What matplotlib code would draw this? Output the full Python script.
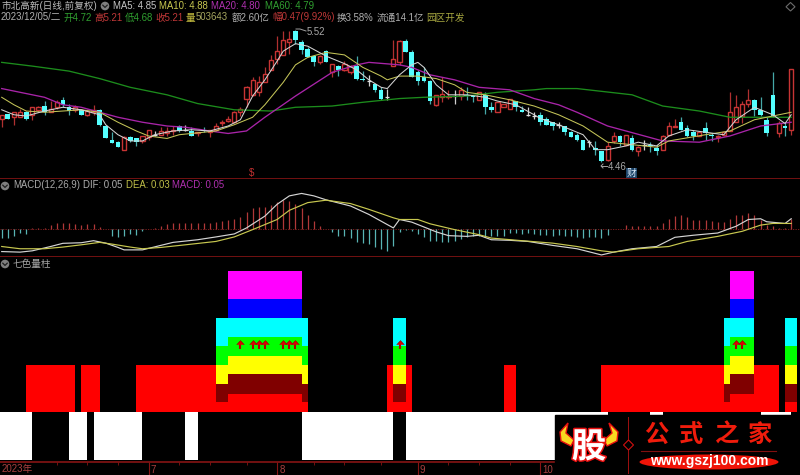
import matplotlib
matplotlib.use("Agg")
import matplotlib.patheffects as pe
import matplotlib.pyplot as plt
import numpy as np
from matplotlib.patches import Circle, Ellipse, Polygon

plt.rcParams["font.family"] = ["Liberation Sans", "Noto Sans CJK SC", "DejaVu Sans"]

# 日K线
opens = [4.81, 4.85, 4.82, 4.82, 4.86, 4.84, 4.88, 4.91, 4.86, 4.90, 4.96, 4.90, 4.88, 4.88, 4.84, 4.86, 4.88, 4.75, 4.64, 4.62,
         4.56, 4.66, 4.65, 4.63, 4.66, 4.68, 4.68, 4.69, 4.71, 4.75, 4.72, 4.71, 4.69, 4.72, 4.70, 4.72, 4.77, 4.79, 4.78, 4.86,
         4.97, 5.00, 5.02, 5.10, 5.20, 5.29, 5.32, 5.42, 5.51, 5.42, 5.37, 5.31, 5.26, 5.35, 5.18, 5.23, 5.20, 5.18, 5.23, 5.13,
         5.11, 5.09, 5.04, 4.98, 5.23, 5.26, 5.43, 5.34, 5.18, 5.14, 5.11, 4.92, 4.98, 4.98, 4.99, 4.99, 5.00, 4.99, 4.96, 5.00,
         4.90, 4.86, 4.90, 4.89, 4.95, 4.88, 4.84, 4.83, 4.84, 4.81, 4.78, 4.76, 4.75, 4.70, 4.68, 4.64, 4.62, 4.57, 4.55, 4.48,
         4.63, 4.67, 4.60, 4.65, 4.55, 4.60, 4.60, 4.57, 4.56, 4.68, 4.74, 4.78, 4.73, 4.70, 4.67, 4.73, 4.68, 4.66, 4.68, 4.71,
         4.78, 4.83, 4.93, 4.96, 4.88, 4.80, 5.00, 4.69, 4.75, 4.72]
closes = [4.84, 4.81, 4.86, 4.86, 4.81, 4.90, 4.90, 4.86, 4.89, 4.94, 4.92, 4.87, 4.90, 4.84, 4.87, 4.88, 4.76, 4.65, 4.61, 4.58,
          4.66, 4.63, 4.62, 4.67, 4.72, 4.68, 4.71, 4.71, 4.72, 4.71, 4.72, 4.67, 4.70, 4.71, 4.72, 4.75, 4.78, 4.81, 4.86, 4.89,
          5.06, 5.12, 5.10, 5.17, 5.28, 5.35, 5.44, 5.45, 5.44, 5.36, 5.30, 5.26, 5.31, 5.26, 5.25, 5.20, 5.25, 5.23, 5.13, 5.12,
          5.11, 5.04, 4.97, 4.98, 5.29, 5.43, 5.34, 5.14, 5.11, 5.11, 4.95, 5.00, 5.01, 4.99, 4.99, 5.04, 4.99, 4.98, 5.02, 4.90,
          4.88, 4.94, 4.93, 4.97, 4.90, 4.86, 4.84, 4.83, 4.78, 4.76, 4.75, 4.76, 4.70, 4.66, 4.64, 4.56, 4.62, 4.56, 4.47, 4.59,
          4.67, 4.62, 4.68, 4.56, 4.58, 4.60, 4.59, 4.55, 4.67, 4.75, 4.75, 4.72, 4.67, 4.67, 4.70, 4.69, 4.67, 4.67, 4.70, 4.86,
          4.90, 4.93, 4.96, 4.88, 4.84, 4.69, 4.83, 4.77, 4.73, 5.21]
highs = [4.84, 4.85, 4.86, 4.89, 4.87, 4.90, 4.91, 4.95, 4.95, 4.96, 4.98, 4.93, 4.92, 4.89, 4.89, 4.92, 4.89, 4.76, 4.70, 4.63,
         4.67, 4.67, 4.65, 4.67, 4.72, 4.71, 4.74, 4.74, 4.75, 4.76, 4.76, 4.74, 4.70, 4.74, 4.72, 4.77, 4.80, 4.83, 4.87, 4.90,
         5.07, 5.14, 5.15, 5.22, 5.32, 5.47, 5.51, 5.51, 5.52, 5.44, 5.38, 5.32, 5.32, 5.36, 5.25, 5.24, 5.27, 5.24, 5.31, 5.19,
         5.16, 5.09, 5.06, 5.05, 5.44, 5.44, 5.45, 5.36, 5.20, 5.22, 5.12, 5.00, 5.14, 5.04, 5.04, 5.06, 5.06, 5.00, 5.02, 5.02,
         4.94, 4.94, 4.93, 4.97, 4.95, 4.91, 4.90, 4.86, 4.86, 4.82, 4.78, 4.78, 4.75, 4.71, 4.69, 4.64, 4.64, 4.63, 4.55, 4.62,
         4.70, 4.68, 4.68, 4.68, 4.59, 4.64, 4.62, 4.60, 4.68, 4.78, 4.81, 4.82, 4.76, 4.72, 4.70, 4.78, 4.69, 4.68, 4.70, 5.02,
         5.00, 4.95, 5.05, 4.97, 4.98, 4.82, 5.18, 4.79, 4.78, 5.21]
lows = [4.74, 4.81, 4.76, 4.82, 4.80, 4.80, 4.86, 4.84, 4.86, 4.89, 4.90, 4.84, 4.86, 4.84, 4.83, 4.84, 4.75, 4.65, 4.61, 4.58,
        4.56, 4.62, 4.59, 4.61, 4.64, 4.67, 4.68, 4.67, 4.68, 4.70, 4.71, 4.67, 4.67, 4.70, 4.66, 4.71, 4.75, 4.78, 4.77, 4.83,
        4.90, 4.99, 4.99, 5.10, 5.20, 5.25, 5.32, 5.33, 5.41, 5.33, 5.30, 5.23, 5.25, 5.26, 5.14, 5.15, 5.19, 5.17, 5.12, 5.11,
        5.07, 5.02, 4.96, 4.96, 5.23, 5.24, 5.34, 5.14, 5.08, 5.10, 4.93, 4.91, 4.94, 4.97, 4.93, 4.96, 4.96, 4.94, 4.96, 4.85,
        4.86, 4.86, 4.90, 4.89, 4.87, 4.86, 4.83, 4.81, 4.76, 4.76, 4.72, 4.73, 4.68, 4.66, 4.63, 4.56, 4.58, 4.52, 4.46, 4.47,
        4.61, 4.59, 4.60, 4.55, 4.51, 4.56, 4.54, 4.52, 4.56, 4.67, 4.74, 4.72, 4.66, 4.64, 4.67, 4.64, 4.63, 4.62, 4.67, 4.71,
        4.78, 4.77, 4.90, 4.83, 4.83, 4.67, 4.82, 4.66, 4.67, 4.68]

# 均线，按图读取的采样点
ma5_x = [0, 2, 4, 7, 10, 13, 16, 17, 19, 21, 23, 25, 28, 31, 34, 37, 39, 41, 43, 45,
         46, 48, 50, 53, 56, 58, 60, 62, 63, 65, 67, 68, 69, 71, 73, 76, 79, 81, 84, 87,
         88, 91, 95, 97, 99, 102, 104, 107, 109, 112, 115, 118, 120, 123, 126, 128, 129]
ma5 = [4.88, 4.84, 4.83, 4.87, 4.90, 4.88, 4.84, 4.76, 4.68, 4.63, 4.63, 4.68, 4.71, 4.72, 4.71, 4.75, 4.80, 4.99, 5.12, 5.27,
       5.35, 5.41, 5.39, 5.31, 5.25, 5.20, 5.12, 5.06, 5.05, 5.16, 5.24, 5.26, 5.22, 5.08, 5.00, 5.00, 4.98, 4.95, 4.92, 4.84,
       4.81, 4.76, 4.68, 4.56, 4.56, 4.59, 4.62, 4.59, 4.67, 4.72, 4.70, 4.68, 4.80, 4.90, 4.84, 4.77, 4.84]
ma10_x = [0, 2, 4, 7, 10, 13, 16, 19, 22, 24, 27, 29, 33, 35, 38, 41, 43, 46, 48, 50,
          53, 56, 59, 62, 63, 65, 68, 71, 74, 76, 79, 83, 87, 91, 95, 99, 103, 107, 109, 115,
          119, 123, 126, 129]
ma10 = [4.98, 4.92, 4.87, 4.86, 4.87, 4.88, 4.86, 4.78, 4.71, 4.67, 4.65, 4.68, 4.70, 4.71, 4.76, 4.82, 4.92, 5.10, 5.24, 5.30,
        5.34, 5.32, 5.22, 5.15, 5.12, 5.15, 5.15, 5.13, 5.08, 5.02, 5.00, 4.96, 4.91, 4.84, 4.75, 4.62, 4.60, 4.58, 4.63, 4.68,
        4.71, 4.80, 4.83, 4.86]
ma20_x = [0, 3, 7, 10, 13, 16, 19, 23, 27, 30, 34, 37, 40, 43, 48, 54, 58, 60, 65, 67,
          70, 74, 78, 83, 87, 91, 94, 99, 102, 108, 114, 119, 124, 129]
ma20 = [5.05, 5.02, 4.98, 4.92, 4.90, 4.86, 4.82, 4.78, 4.75, 4.74, 4.71, 4.69, 4.71, 4.82, 4.99, 5.18, 5.24, 5.26, 5.24, 5.22,
        5.16, 5.12, 5.06, 5.04, 4.97, 4.92, 4.86, 4.75, 4.71, 4.63, 4.62, 4.67, 4.75, 4.78]
ma60_x = [0, 5, 11, 16, 21, 27, 32, 38, 44, 48, 54, 59, 65, 69, 76, 81, 87, 89, 94, 103, 108, 114, 119, 124, 129]
ma60 = [5.26, 5.23, 5.19, 5.13, 5.06, 5.00, 4.93, 4.88, 4.87, 4.90, 4.91, 4.94, 4.97, 4.98, 4.99, 5.02, 5.04, 5.05, 5.05, 5.00,
        4.91, 4.87, 4.82, 4.82, 4.82]

# MACD
macd = [-.049, -.050, -.040, -.023, -.027, .004, .005, .007, .022, .032, .032, .031, .027, .022, .025, .027, .009, .002, -.036, -.045,
        -.040, -.029, -.031, -.009, 0, .005, .018, .025, .032, .032, .032, .031, .031, .032, .031, .036, .040, .047, .054, .065,
        .090, .112, .117, .119, .126, .144, .153, .148, .135, .112, .072, .040, .018, 0, -.014, -.040, -.040, -.050, -.068, -.076,
        -.081, -.094, -.108, -.117, -.090, -.018, -.004, -.009, -.027, -.045, -.063, -.067, -.068, -.068, -.063, -.054, -.045, -.040, -.036, -.040,
        -.036, -.036, -.036, -.022, -.022, -.025, -.023, -.027, -.032, -.032, -.036, -.032, -.036, -.040, -.045, -.050, -.045, -.045, -.050, -.032,
        -.002, .002, .020, .018, .014, .018, .018, .018, .032, .054, .068, .072, .063, .050, .050, .050, .040, .036, .036, .054,
        .072, .076, .086, .076, .045, .022, .014, .004, .004, .054]
dif_x = [0, 3, 5, 8, 10, 13, 15, 17, 19, 20, 23, 26, 28, 32, 35, 38, 40, 43, 45, 47,
         49, 51, 53, 57, 60, 64, 65, 67, 68, 71, 73, 76, 78, 80, 83, 86, 90, 94, 98, 100,
         103, 107, 110, 113, 117, 120, 122, 124, 125, 128, 129]
dif = [-.121, -.124, -.117, -.094, -.077, -.074, -.063, -.076, -.099, -.112, -.112, -.088, -.072, -.058, -.043, -.027, .005, .068, .131, .176,
       .189, .176, .155, .122, .077, .005, .050, .036, .023, -.016, -.036, -.040, -.034, -.058, -.061, -.067, -.088, -.106, -.139, -.124,
       -.106, -.094, -.045, -.034, -.022, .014, .050, .054, .038, .029, .054]
dea_x = [0, 3, 7, 10, 13, 16, 18, 21, 23, 26, 30, 35, 38, 41, 45, 47, 50, 53, 57, 60,
         64, 65, 68, 70, 74, 78, 80, 85, 90, 94, 98, 100, 104, 109, 112, 117, 121, 124, 126, 129]
dea = [-.094, -.106, -.106, -.097, -.085, -.072, -.081, -.097, -.106, -.099, -.085, -.067, -.043, -.004, .050, .099, .140, .153, .135, .104,
       .059, .050, .050, .027, -.004, -.031, -.049, -.063, -.076, -.094, -.117, -.124, -.106, -.094, -.067, -.040, -.013, .020, .029, .029]

# 七色量柱，各段起止K线序号
white_spans = [(-1, 5), (11, 14), (15, 23), (30, 32), (49, 64), (66, 99), (106, 108), (124, 129)]
red_spans = [(4, 12), (13, 16), (22, 50), (63, 67), (82, 84), (98, 127), (128, 130)]
outer_spans = [(35, 50), (64, 66), (118, 123), (128, 130)]
inner_spans = [(37, 49), (119, 123)]
top_spans = [(37, 49), (119, 123)]
arrow_x = [39, 41, 42, 43, 46, 47, 48, 65, 120, 121]

minor_ticks = [9, 14, 19, 29, 34, 40, 51, 56, 62, 73, 78, 83]
major_ticks = [24, 45, 68, 88]
major_labels = ["7", "8", "9", "10"]

RED = "#c83434"
CYAN = "#54ffff"
LINE = "#861414"
GRAY = "#b4b4b4"


def rect(top, bottom):
    # 像素行转换成figure坐标
    return [0, 1 - bottom / 475, 1, (bottom - top) / 475]


fig = plt.figure(figsize=(8, 4.75), dpi=100, facecolor="black")
ax_main = fig.add_axes(rect(0, 179))
ax_macd = fig.add_axes(rect(179, 257))
ax_vol = fig.add_axes(rect(257, 461.7))
for ax in (ax_main, ax_macd, ax_vol):
    ax.set_facecolor("black")
    ax.set_xlim(-0.278, 130.44)
    ax.set_yticks([])
    ax.set_xticks([])
    for side in ("top", "left", "right"):
        ax.spines[side].set_visible(False)
    ax.spines["bottom"].set_color(LINE)
    ax.spines["bottom"].set_linewidth(1.2)

# K线
ax_main.set_ylim(4.325, 5.76)
x = np.arange(len(closes))
for i in x:
    o, c, h, l = opens[i], closes[i], highs[i], lows[i]
    top, bot = max(o, c), min(o, c)
    if c > o:
        ax_main.vlines(i, top, h, color="#b03030", lw=0.9)
        ax_main.vlines(i, l, bot, color="#b03030", lw=0.9)
        ax_main.bar(i, top - bot, bottom=bot, width=0.68, facecolor="black", edgecolor=RED, linewidth=1.0, zorder=2)
    elif c < o:
        ax_main.vlines(i, l, h, color="#45a8a8", lw=0.9)
        ax_main.bar(i, top - bot, bottom=bot, width=0.76, color=CYAN, linewidth=0, zorder=2)
    else:
        ax_main.vlines(i, l, h, color="#d0d0d0", lw=0.9)
        ax_main.hlines(c, i - 0.36, i + 0.36, color="#e0e0e0", lw=0.9)
ax_main.plot(ma60_x, ma60, color="#1c8c1c", lw=0.95, zorder=3)
ax_main.plot(ma20_x, ma20, color="#a824a8", lw=0.95, zorder=3)
ax_main.plot(ma10_x, ma10, color="#c4c458", lw=0.75, zorder=3)
ax_main.plot(ma5_x, ma5, color="#d4d4d4", lw=0.75, zorder=3)

# MACD
ax_macd.set_ylim(-0.150, 0.266)
macd_arr = np.array(macd)
macd_x = np.arange(len(macd_arr))
ax_macd.axhline(0, color="#8a2020", lw=0.6, ls=(0, (1.5, 1.5)))
ax_macd.vlines(macd_x[macd_arr > 0], 0, macd_arr[macd_arr > 0], color="#b03838", lw=0.9)
ax_macd.vlines(macd_x[macd_arr < 0], macd_arr[macd_arr < 0], 0, color="#58b4b4", lw=0.9)
ax_macd.plot(dif_x, dif, color="#d4d4d4", lw=0.85)
ax_macd.plot(dea_x, dea, color="#c8c850", lw=0.85)


# 七色量柱
def draw_spans(spans, bottom, top, color):
    for s, e in spans:
        ax_vol.bar(s, top - bottom, bottom=bottom, width=e - s, align="edge", color=color, linewidth=0)


ax_vol.set_ylim(-2.6, 8.09)
draw_spans(white_spans, -2.5, 0, "white")
draw_spans(red_spans, 0, 2.46, "#ff0000")
draw_spans(outer_spans, 0, 0.5, "#ff0000")
draw_spans(outer_spans, 0.5, 1.46, "#800000")
draw_spans(outer_spans, 1.46, 2.46, "#ffff00")
draw_spans(outer_spans, 2.46, 3.42, "#00ff00")
draw_spans(outer_spans, 3.42, 4.91, "#00ffff")
draw_spans(inner_spans, 0, 0.96, "#ff0000")
draw_spans(inner_spans, 0.96, 1.96, "#800000")
draw_spans(inner_spans, 1.96, 2.93, "#ffff00")
draw_spans(inner_spans, 2.93, 3.91, "#00ff00")
draw_spans(top_spans, 4.91, 5.91, "#0000ff")
draw_spans(top_spans, 5.91, 7.35, "#ff00ff")
ax_vol.vlines(arrow_x, 3.3, 3.65, color="#b00000", lw=1.5, zorder=4)
ax_vol.scatter(arrow_x, [3.64] * len(arrow_x), marker=[(-4, -2.4), (0, 2), (4, -2.4)], s=30, color="#e00000",
               edgecolor="#900000", linewidth=0.4, zorder=5)

# 时间轴
ax_vol.set_xticks(major_ticks)
ax_vol.set_xticks(minor_ticks, minor=True)
ax_vol.set_xticklabels([])
ax_vol.tick_params(axis="x", which="major", length=9.5, width=0.8, color=LINE)
ax_vol.tick_params(axis="x", which="minor", length=2, width=0.6, color=LINE)
for t, lab in zip(major_ticks, major_labels):
    ax_vol.annotate(lab, xy=(t, 0), xycoords=("data", "axes fraction"), xytext=(1.5, -2.2), textcoords="offset points",
                    va="top", ha="left", fontsize=7, color="#a84040")

# 文字层用像素坐标
over = fig.add_axes([0, 0, 1, 1], facecolor="none")
over.set_xlim(0, 800)
over.set_ylim(475, 0)
over.axis("off")


def label(px, py, text, color=GRAY, size=6.9, **kw):
    return over.text(px, py, text, color=color, fontsize=size, va="center", ha="left", parse_math=False, **kw)


def icon(cx, cy):
    over.add_patch(Circle((cx, cy), 4.3, facecolor="#808080", edgecolor="none"))
    over.plot([cx - 2.2, cx, cx + 2.2], [cy - 0.8, cy + 1.4, cy - 0.8], color="#202020", lw=0.9)


label(1, 6, "市北高新(日线,前复权)", "#bcbcbc")
icon(105, 6)
label(113, 6, "MA5: 4.85", "#c4c4c4")
label(159, 6, "MA10: 4.88", "#c8c850")
label(211, 6, "MA20: 4.80", "#b030b0")
label(265, 6, "MA60: 4.79", "#30a030")

label(1, 17.5, "2023/12/05/二", "#b0b0b0")
label(63, 17.5, "开4.72", "#30a030")
label(94, 17.5, "高5.21", "#c03838")
label(125, 17.5, "低4.68", "#30a030")
label(155, 17.5, "收5.21", "#c03838")
label(186, 17.5, "量", "#c8c040")
label(196, 17.5, "503643", "#a8a860")
label(232, 17.5, "额2.60亿", "#b0b0b0")
label(272, 17.5, "幅0.47(9.92%)", "#c03838")
label(337, 17.5, "换3.58%", "#b0b0b0")
label(377, 17.5, "流通14.1亿", "#b0b0b0")
label(426.5, 17.5, "园区开发", "#a8a840")

over.plot([296, 300, 306], [29, 29, 31], color="#a0a0a0", lw=0.7)
label(307, 32, "5.52", "#a8a8a8")
over.plot([601, 607], [166, 166], color="#a0a0a0", lw=0.7)
over.plot([603, 601, 603], [164, 166, 168], color="#a0a0a0", lw=0.7)
label(608, 166.5, "4.46", "#a8a8a8")
over.text(631.5, 173, "财", color="#d8e8f8", fontsize=7, ha="center", va="center",
          bbox=dict(boxstyle="square,pad=0.02", facecolor="#1c4468", edgecolor="none"))
over.text(252, 173, "$", color="#c03030", fontsize=7, ha="center", va="center", parse_math=False)
over.add_patch(Polygon([(790.5, 2.5), (795, 6.8), (790.5, 11), (786, 6.8)], closed=True, facecolor="none",
                       edgecolor="#6c6c6c", lw=0.8))

icon(5, 186)
label(13, 185.5, "MACD(12,26,9)", "#a8a8a8")
label(83, 185.5, "DIF: 0.05", "#b0b0b0")
label(126, 185.5, "DEA: 0.03", "#c0c048")
label(172, 185.5, "MACD: 0.05", "#b030b0")
icon(5, 264)
label(13, 264, "七色量柱", "#a8a8a8")
label(2, 469, "2023年", "#a84040", size=7)

# 水印
over.fill([555, 800, 800, 555], [415, 415, 475, 475], color="black", zorder=6)
for horn in ([(568, 423), (560, 432), (561, 441), (571, 446), (574, 440), (566, 433)],
             ([(609, 423), (618, 432), (617, 441), (607, 446), (604, 440), (612, 433)])):
    over.add_patch(Polygon(horn, closed=True, facecolor="#f8d820", edgecolor="#e81010", lw=1.0, zorder=7))
over.text(589, 447, "股", color="white", fontsize=25, fontweight="bold", ha="center", va="center", zorder=8,
          family=["Noto Sans CJK SC"], path_effects=[pe.withStroke(linewidth=2.2, foreground="#e81010")])
over.plot([628, 628], [417, 473], color="#a01010", lw=0.7, zorder=7)
over.add_patch(Polygon([(628.5, 440), (633.5, 445), (628.5, 450), (623.5, 445)], closed=True, facecolor="black",
                       edgecolor="#d01010", lw=0.8, zorder=8))
for cx, ch in zip([656, 691, 727, 760], "公式之家"):
    over.text(cx, 435, ch, color="#f01c0c", fontsize=17.5, fontweight="bold", ha="center", va="center", zorder=8,
              family=["Noto Sans CJK SC"])
over.plot([641, 776], [451, 451], color="#801010", lw=0.8, zorder=7)
over.add_patch(Ellipse((709, 462), 139, 15, facecolor="#f01408", edgecolor="none", zorder=7))
over.text(709, 461.5, "www.gszj100.com", color="white", fontsize=10, fontweight="bold", ha="center", va="center", zorder=8)

fig.savefig("out.png", dpi=100, facecolor="black")
